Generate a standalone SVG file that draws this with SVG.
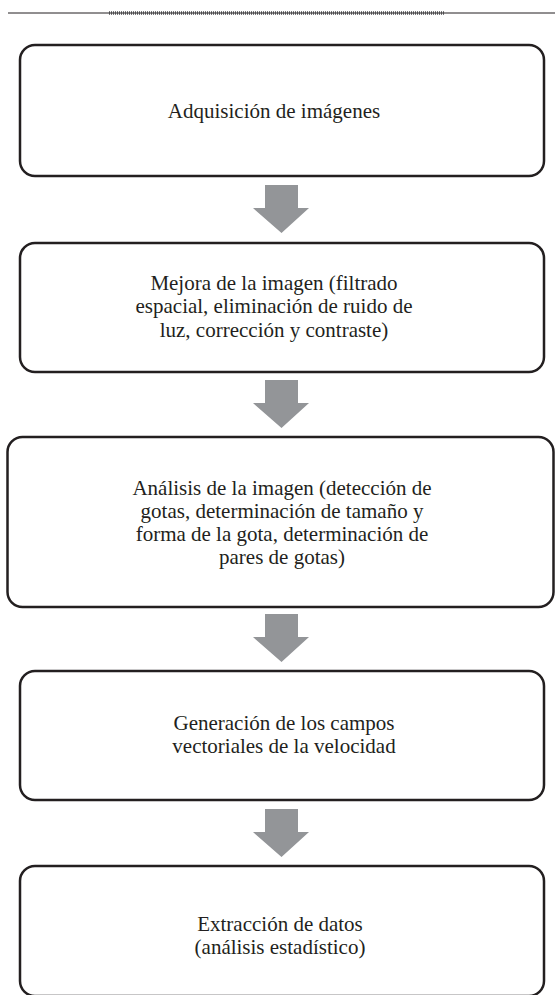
<svg xmlns="http://www.w3.org/2000/svg" width="555" height="995" viewBox="0 0 555 995">
<style>
.box{fill:#ffffff;stroke:#231f20;stroke-width:2.5}
.arrow{fill:#939598}
.t{font-family:"Liberation Serif","Times New Roman",serif;font-size:21px;fill:#231f20;text-anchor:middle}
</style>
<rect x="0" y="0" width="555" height="995" fill="#ffffff"/>
<g id="header">
<line x1="8" y1="13" x2="555" y2="13" stroke="#231f20" stroke-width="1"/>
<line x1="109" y1="13" x2="445" y2="13" stroke="#4d4d4f" stroke-width="3.5" stroke-dasharray="1 1"/>
</g>
<g id="connectors">
<path class="arrow" d="M265,185 H298 V208 H309 L281.5,233 L253,208 H265 Z"/>
<path class="arrow" d="M265,380 H298 V403 H309 L281.5,428 L253,403 H265 Z"/>
<path class="arrow" d="M265,614 H298 V637 H309 L281.5,662 L253,637 H265 Z"/>
<path class="arrow" d="M265,809 H298 V832 H309 L281.5,857 L253,832 H265 Z"/>
</g>
<g id="node1">
<rect class="box" x="20" y="45" width="524" height="131" rx="15"/>
<text class="t" x="274" y="117.5">Adquisición de imágenes</text>
</g>
<g id="node2">
<rect class="box" x="20" y="243" width="524" height="129" rx="15"/>
<text class="t" x="274" y="290">Mejora de la imagen (filtrado</text>
<text class="t" x="274" y="313.3">espacial, eliminación de ruido de</text>
<text class="t" x="274" y="336.6">luz, corrección y contraste)</text>
</g>
<g id="node3">
<rect class="box" x="7.5" y="437" width="546" height="170" rx="15"/>
<text class="t" x="282" y="494.5">Análisis de la imagen (detección de</text>
<text class="t" x="282" y="517.8">gotas, determinación de tamaño y</text>
<text class="t" x="282" y="541.1">forma de la gota, determinación de</text>
<text class="t" x="282" y="564.4">pares de gotas)</text>
</g>
<g id="node4">
<rect class="box" x="20" y="671" width="524" height="129" rx="15"/>
<text class="t" x="284" y="730">Generación de los campos</text>
<text class="t" x="284" y="753.3">vectoriales de la velocidad</text>
</g>
<g id="node5">
<rect class="box" x="20" y="866" width="524" height="130" rx="15"/>
<text class="t" x="280" y="931">Extracción de datos</text>
<text class="t" x="280" y="954.3">(análisis estadístico)</text>
</g>
</svg>
